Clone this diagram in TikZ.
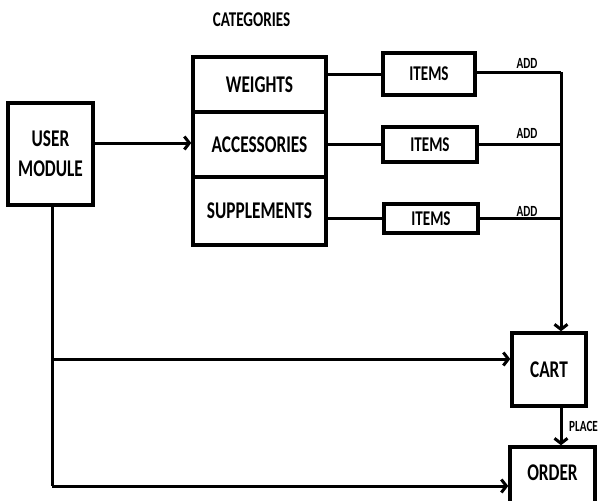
\documentclass[tikz,border=0pt]{standalone}
\usepackage{fontspec}
\newfontfamily\diagfont{Carlito}[FakeStretch=0.72]
\usetikzlibrary{arrows.meta}
\begin{document}
\begin{tikzpicture}[x=1pt,y=-1pt,
  box/.style={draw, line width=3.5pt, inner sep=0pt, align=center,
    font=\diagfont\bfseries\fontsize{24}{30}\selectfont},
  itembox/.style={box, font=\diagfont\bfseries\fontsize{21}{24}\selectfont},
  wire/.style={line width=3pt},
  flow/.style={wire, -{Straight Barb[length=5pt,width=13pt,line width=3pt]}},
  tag/.style={font=\diagfont\bfseries\fontsize{15.5}{17}\selectfont, inner sep=0pt}]
  \useasboundingbox (0,0) rectangle (598,501);

  % title over the category stack
  \node[font=\diagfont\bfseries\fontsize{21}{24}\selectfont, inner sep=0pt] (cattitle) at (251.5,20) {CATEGORIES};

  % main blocks
  \node[box, minimum width=85pt, minimum height=102pt] (user) at (50.5,154) {USER\\MODULE};
  \node[box, minimum width=133pt, minimum height=55pt] (weights) at (259.5,84.5) {WEIGHTS};
  \node[box, minimum width=133pt, minimum height=65pt] (acc) at (259.5,144.5) {ACCESSORIES};
  \node[box, minimum width=133pt, minimum height=68pt] (supp) at (259.5,211) {SUPPLEMENTS};

  \node[itembox, minimum width=92pt, minimum height=42pt] (it1) at (429,74) {ITEMS};
  \node[itembox, minimum width=94pt, minimum height=35pt] (it2) at (430,144.5) {ITEMS};
  \node[itembox, minimum width=94pt, minimum height=29pt] (it3) at (431,218.5) {ITEMS};

  \node[box, minimum width=74pt, minimum height=73pt] (cart) at (549,369.5) {CART};
  \node[box, minimum width=85pt, minimum height=63pt, text depth=11pt] (order) at (552.5,478.5) {ORDER};

  % junction points
  \coordinate (bus) at (561,72);
  \coordinate (split) at (52,359);
  \coordinate (low) at (52,486);

  % user module to categories
  \draw[flow] (user.east |- 0,143) -- (acc.west |- 0,143);

  % categories to items
  \draw[wire] (weights.east |- it1.west) -- (it1.west);
  \draw[wire] (acc.east |- it2.west) -- (it2.west);
  \draw[wire] (supp.east |- it3.west) -- (it3.west);

  % items to cart
  \draw[wire] (it1.east |- bus) -- (bus);
  \draw[wire] (it2.east) -- (it2.east -| bus);
  \draw[wire] (it3.east) -- (it3.east -| bus);
  \draw[flow] (bus) -- (bus |- cart.north);
  \node[tag] (add1) at (527,63) {ADD};
  \node[tag] (add2) at (527,133) {ADD};
  \node[tag] (add3) at (527,211) {ADD};

  % cart to order
  \draw[flow] (bus |- cart.south) -- (bus |- order.north);
  \node[tag, anchor=west] (place) at (569,426) {PLACE};

  % user module straight to cart and order
  \draw[wire] (user.south -| split) -- (low);
  \draw[flow] (split) -- (cart.west |- split);
  \draw[flow] (low) -- (order.west |- low);
\end{tikzpicture}
\end{document}
